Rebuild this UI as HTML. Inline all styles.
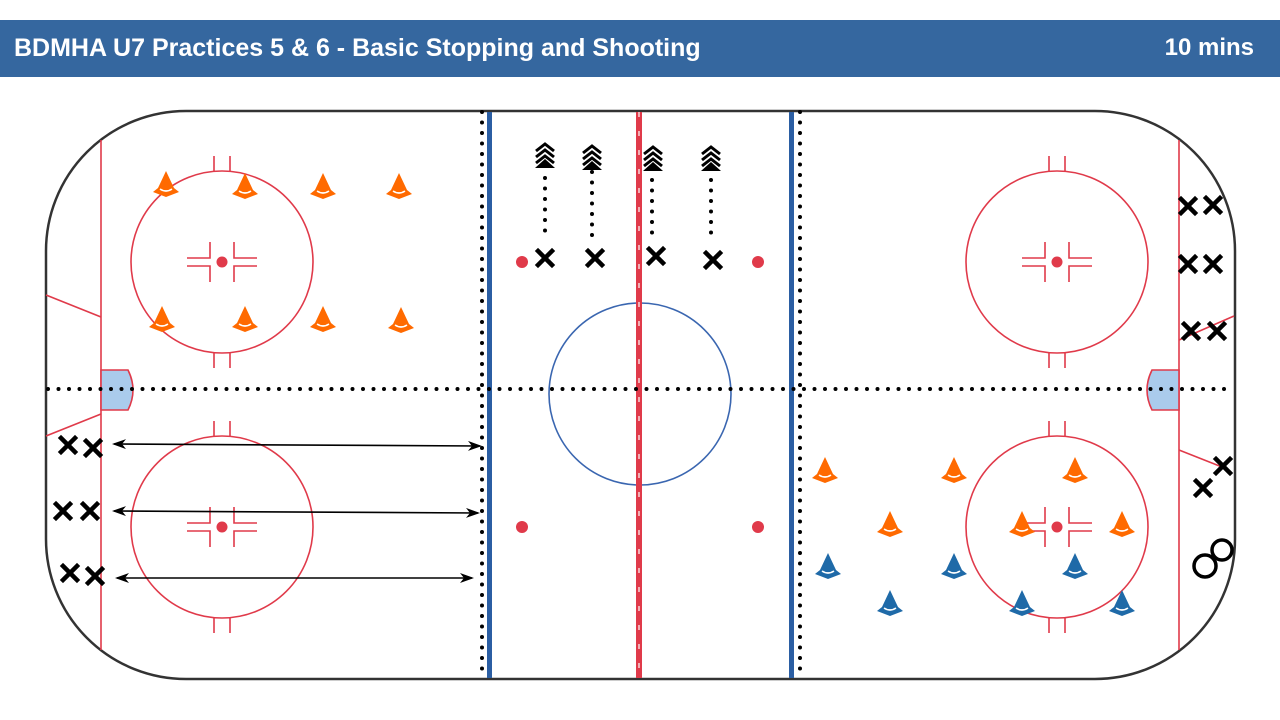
<!DOCTYPE html>
<html><head><meta charset="utf-8"><style>
body{margin:0;background:#fff;width:1280px;height:720px;overflow:hidden;font-family:"Liberation Sans",sans-serif}
.hdr{position:absolute;left:0;top:20px;width:1280px;height:57px;background:#35679f;color:#fff;font-weight:bold;font-size:25px}
.hdr .l{position:absolute;left:14px;top:14px}.hdr .r{position:absolute;right:26px;top:14px;font-size:24px}
svg{position:absolute;left:0;top:0}
</style></head><body>
<div class="hdr"><span class="l">BDMHA U7 Practices 5 &amp; 6 - Basic Stopping and Shooting</span><span class="r">10 mins</span></div>
<svg width="1280" height="720" viewBox="0 0 1280 720">
<defs>
<g id="cone"><path d="M0,-15 L8,2 L13,6 L0,11 L-13,6 L-8,2 Z"/><path d="M-6,3 Q0,7 6,3" stroke="#fff" stroke-width="1.6" fill="none"/></g>
<g id="x"><path d="M-7,-7 L7,7 M7,-7 L-7,7" stroke="#000" stroke-width="4.5" stroke-linecap="square"/></g>
<g id="chev"><path d="M-9,-2 L0,-9 L9,-2 M-9,-8 L0,-15 L9,-8 M-9,4 L0,-3 L9,4" stroke="#000" stroke-width="3" fill="none"/><path d="M-10,9 L0,0 L10,9Z"/></g>
<g id="fo" stroke="#e03a4a" stroke-width="1.6" fill="none">
<circle r="91"/><circle r="5.5" fill="#e03a4a" stroke="none"/>
<path d="M-8,-91 V-106 M8,-91 V-106 M-8,91 V106 M8,91 V106"/>
<path d="M-12,-20 V-4 H-35 M-12,20 V4 H-35 M12,-20 V-4 H35 M12,20 V4 H35"/>
</g>
<marker id="ah" markerWidth="14" markerHeight="10" refX="12" refY="5" orient="auto-start-reverse" markerUnits="userSpaceOnUse"><path d="M0,0 L14,5 L0,10 L4,5Z"/></marker>
</defs>
<rect x="46" y="111" width="1189" height="568" rx="140" ry="140" fill="#fff" stroke="#333" stroke-width="2.5"/>
<g stroke="#e03a4a" stroke-width="1.6" fill="none">
<line x1="101" y1="140" x2="101" y2="650"/><line x1="1179" y1="140" x2="1179" y2="650"/>
<line x1="46" y1="295" x2="101" y2="317"/><line x1="46" y1="436" x2="101" y2="414"/>
<line x1="1179" y1="340" x2="1234" y2="316"/><line x1="1179" y1="450" x2="1222" y2="467"/>
<path d="M101,370 H128 Q138,390 128,410 H101Z" fill="#aacbec"/>
<path d="M1179,370 H1152 Q1142,390 1152,410 H1179Z" fill="#aacbec"/>
</g>
<use href="#fo" x="222" y="262"/><use href="#fo" x="222" y="527"/>
<use href="#fo" x="1057" y="262"/><use href="#fo" x="1057" y="527"/>
<circle cx="640" cy="394" r="91" fill="none" stroke="#3a66b0" stroke-width="1.6"/>
<g fill="#e03a4a"><circle cx="522" cy="262" r="6"/><circle cx="758" cy="262" r="6"/><circle cx="522" cy="527" r="6"/><circle cx="758" cy="527" r="6"/></g>
<rect x="487" y="112" width="5" height="566" fill="#2b5ea3"/>
<rect x="789" y="112" width="5" height="566" fill="#2b5ea3"/>
<rect x="636" y="112" width="6" height="566" fill="#e03a4a"/>
<line x1="639" y1="112" x2="639" y2="678" stroke="#fff" stroke-width="1.2" stroke-dasharray="5 14"/>
<g stroke="#000" stroke-width="4" stroke-linecap="round" stroke-dasharray="0 10.5" fill="none">
<line x1="48" y1="389" x2="1234" y2="389"/>
<line x1="482" y1="112" x2="482" y2="678"/><line x1="800" y1="112" x2="800" y2="678"/>
<line x1="545" y1="178" x2="545" y2="232"/><line x1="592" y1="172" x2="592" y2="236"/>
<line x1="652" y1="180" x2="652" y2="234"/><line x1="711" y1="180" x2="711" y2="234"/>
</g>
<use href="#chev" x="545" y="159"/><use href="#chev" x="592" y="161"/><use href="#chev" x="653" y="162"/><use href="#chev" x="711" y="162"/>
<g stroke="#000" stroke-width="1.6" marker-start="url(#ah)" marker-end="url(#ah)">
<line x1="114" y1="444" x2="480" y2="446"/><line x1="114" y1="511" x2="478" y2="513"/><line x1="117" y1="578" x2="472" y2="578"/>
</g>
<g fill="#ff6a00">
<use href="#cone" x="166" y="186"/><use href="#cone" x="245" y="188"/><use href="#cone" x="323" y="188"/><use href="#cone" x="399" y="188"/>
<use href="#cone" x="162" y="321"/><use href="#cone" x="245" y="321"/><use href="#cone" x="323" y="321"/><use href="#cone" x="401" y="322"/>
<use href="#cone" x="825" y="472"/><use href="#cone" x="954" y="472"/><use href="#cone" x="1075" y="472"/>
<use href="#cone" x="890" y="526"/><use href="#cone" x="1022" y="526"/><use href="#cone" x="1122" y="526"/>
</g>
<g fill="#1f6aa8">
<use href="#cone" x="828" y="568"/><use href="#cone" x="954" y="568"/><use href="#cone" x="1075" y="568"/>
<use href="#cone" x="890" y="605"/><use href="#cone" x="1022" y="605"/><use href="#cone" x="1122" y="605"/>
</g>
<use href="#x" x="68" y="445"/><use href="#x" x="93" y="448"/>
<use href="#x" x="63" y="511"/><use href="#x" x="90" y="511"/>
<use href="#x" x="70" y="573"/><use href="#x" x="95" y="576"/>
<use href="#x" x="545" y="258"/><use href="#x" x="595" y="258"/><use href="#x" x="656" y="256"/><use href="#x" x="713" y="260"/>
<use href="#x" x="1188" y="206"/><use href="#x" x="1213" y="205"/>
<use href="#x" x="1188" y="264"/><use href="#x" x="1213" y="264"/>
<use href="#x" x="1191" y="331"/><use href="#x" x="1217" y="331"/>
<use href="#x" x="1223" y="466"/><use href="#x" x="1203" y="488"/>
<g fill="none" stroke="#000" stroke-width="3.5"><circle cx="1222" cy="550" r="10"/><circle cx="1205" cy="566" r="11"/></g>
</svg>
</body></html>
